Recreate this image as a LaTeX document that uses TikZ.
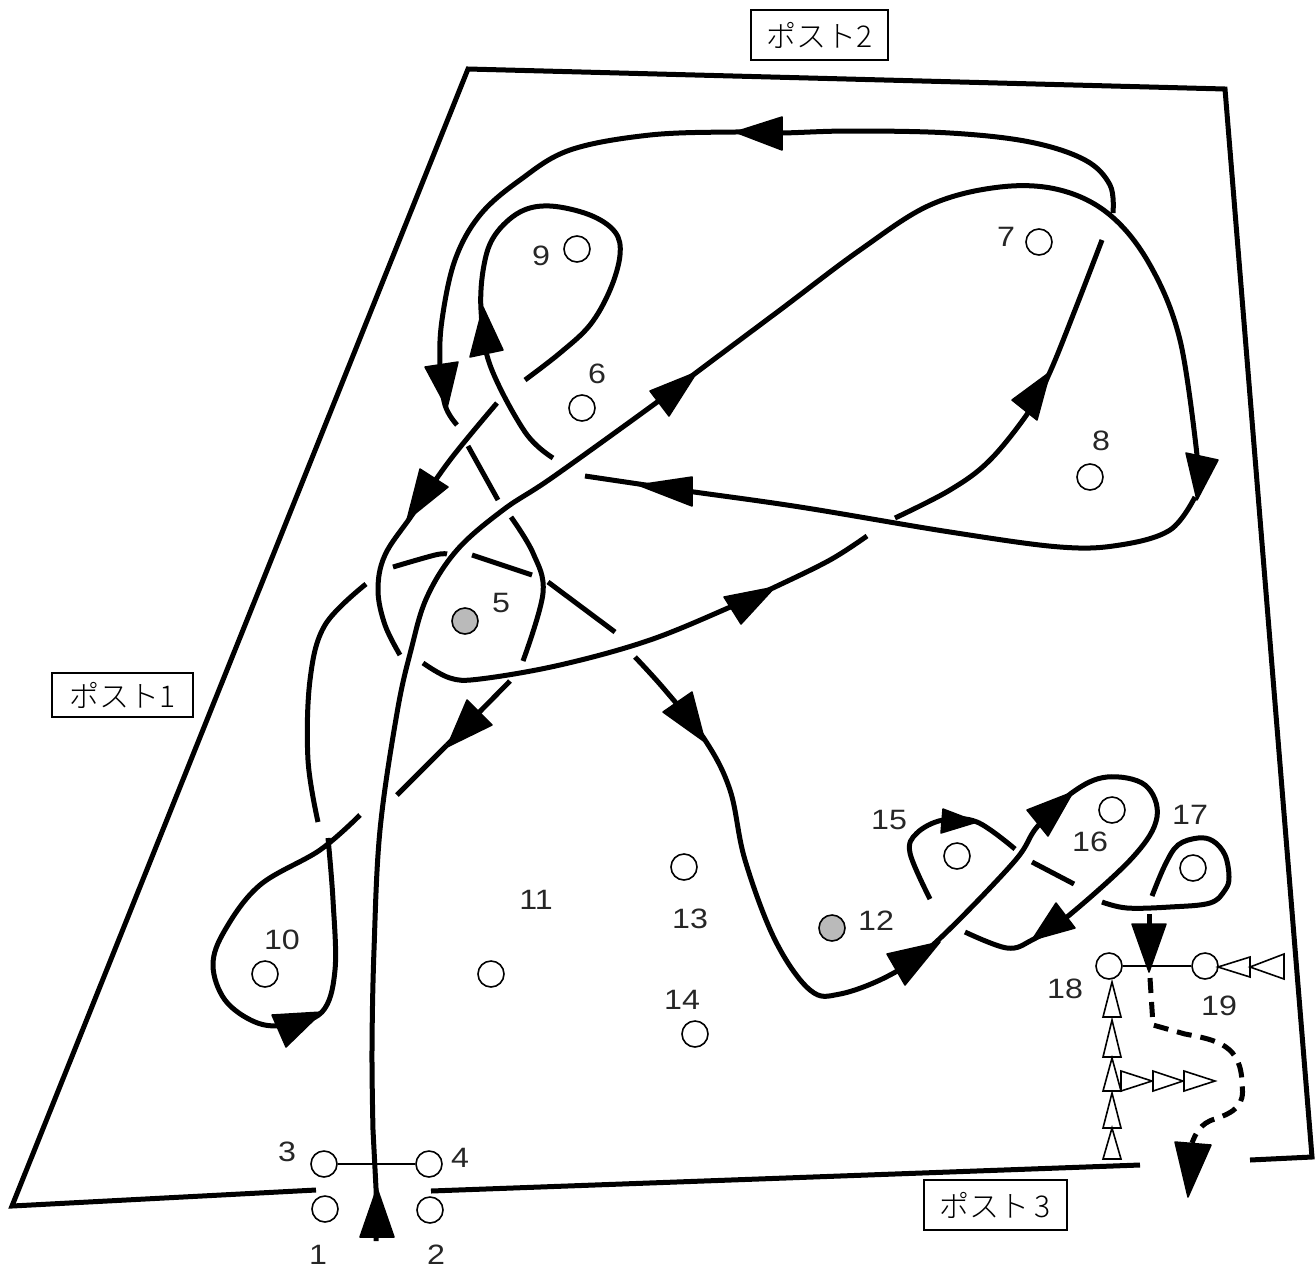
\documentclass[tikz,border=0pt]{standalone}
\usepackage{fontspec}
\newfontfamily\lblfont[FakeStretch=1.15]{Liberation Sans}
\newfontfamily\jpfont[UprightFont=* Light]{Noto Sans CJK JP}
\usetikzlibrary{calc}
\tikzset{
  wall/.style={line width=5pt,line join=miter},
  track/.style={line width=5pt,line cap=butt,line join=round},
  dashtrack/.style={track,dash pattern=on 15pt off 9pt},
  head/.style={fill=black,draw=black,line width=1.5pt,line join=round},
  marker/.style={fill=white,draw=black,line width=1.6pt,line join=miter},
  cone/.style={circle,draw=black,fill=white,line width=1.6pt,minimum size=26pt,inner sep=0pt},
  graycone/.style={cone,fill=black!27},
  link/.style={line width=1.6pt},
  num/.style={font=\lblfont\fontsize{28}{28}\selectfont,inner sep=0pt,text=black!85},
  post/.style={draw=black,line width=1.2pt,fill=white,inner sep=0pt,font=\jpfont\fontsize{30}{30}\selectfont}
}
\newcommand{\trk}[1]{\draw[track] plot[smooth,tension=.6] coordinates {#1};}
\begin{document}
\begin{tikzpicture}[x=1pt,y=-1pt]
\useasboundingbox (0,0) rectangle (1315,1270);
% walls
\draw[wall] (316,1190) -- (12,1206) -- (468,69) -- (1225,89) -- (1312,1157) -- (1250,1160);
\draw[wall] (431,1191) -- (1140,1165);
% cones
\node[cone] (c1) at (325,1209) {};
\node[cone] (c2) at (430,1210) {};
\node[cone] (c3) at (324,1164) {};
\node[cone] (c4) at (429,1164) {};
\node[graycone] (c5) at (465,621) {};
\node[cone] (c6) at (582,408) {};
\node[cone] (c7) at (1039,242) {};
\node[cone] (c8) at (1090,477) {};
\node[cone] (c9) at (577,249) {};
\node[cone] (c10) at (265,974) {};
\node[cone] (c11) at (491,974) {};
\node[graycone] (c12) at (832,928) {};
\node[cone] (c13) at (684,867) {};
\node[cone] (c14) at (695,1034) {};
\node[cone] (c15) at (957,856) {};
\node[cone] (c16) at (1112,810) {};
\node[cone] (c17) at (1193,868) {};
\node[cone] (c18) at (1109,966) {};
\node[cone] (c19) at (1205,966) {};
\draw[link] (c3) -- (c4);
\draw[link] (c18) -- (c19);
% numbers
\node[num] (n1) at (318,1255) {1};
\node[num] (n2) at (436,1255) {2};
\node[num] (n3) at (287,1152) {3};
\node[num] (n4) at (460,1158) {4};
\node[num] (n5) at (501,603) {5};
\node[num] (n6) at (597,374) {6};
\node[num] (n7) at (1006,237) {7};
\node[num] (n8) at (1101,441) {8};
\node[num] (n9) at (541,256) {9};
\node[num] (n10) at (282,940) {10};
\node[num] (n11) at (536,900) {11};
\node[num] (n12) at (876,921) {12};
\node[num] (n13) at (690,919) {13};
\node[num] (n14) at (682,1000) {14};
\node[num] (n15) at (889,820) {15};
\node[num] (n16) at (1090,842) {16};
\node[num] (n17) at (1190,815) {17};
\node[num] (n18) at (1065,989) {18};
\node[num] (n19) at (1219,1006) {19};
% post labels
\node[post,minimum width=137pt,minimum height=50pt] (p2) at (819.5,35) {ポスト2\hspace{20pt}};
\node[post,minimum width=141pt,minimum height=44pt] (p1) at (122.5,695) {ポスト1\hspace{20pt}};
\node[post,minimum width=143pt,minimum height=50pt] (p3) at (995.5,1205) {ポスト\,3\hspace{14pt}};
% track
\draw[track] (376,1241) -- (376,1188) -- (373,1130);
\trk{(373,1130)(372,1050)(374,950)(380,830)(397,713)(411,650)(427,597)(457,550)(503,510)(553,477)(660,400)(697,372)(780,310)(860,250)(930,205)(1000,187)(1060,190)(1110,215)(1150,265)(1180,340)(1197,455)}
\fill[head] (377,1188) -- (394,1237) -- (360,1237) -- cycle;
\fill[head] (697,372) -- (650,391) -- (669,416) -- cycle;
\fill[head] (1186,453) -- (1218,460) -- (1197,500) -- cycle;
\trk{(1195,497)(1170,530)(1120,545)(1060,547)(950,532)(800,507)(680,490)(585,476)}
\fill[head] (638,485) -- (692,477) -- (692,506) -- cycle;
\trk{(553,458)(525,432)(490,365)(481,310)(484,265)(495,235)(520,212)(550,206)(590,215)(615,232)(620,255)(610,290)(590,325)(560,353)(525,380)}
\fill[head] (483,307) -- (503,350) -- (470,357) -- cycle;
\trk{(497,403)(450,460)(412,515)(385,555)(378,590)(385,625)(400,655)}
\fill[head] (420,469) -- (448,487) -- (407,520) -- cycle;
\trk{(423,663)(450,678)(480,679)(560,665)(650,640)(735,605)(775,587)(830,560)(867,536)}
\fill[head] (775,587) -- (724,597) -- (741,624) -- cycle;
\trk{(895,518)(950,490)(990,460)(1030,410)(1050,372)(1075,310)(1102,240)}
\fill[head] (1050,372) -- (1012,400) -- (1037,420) -- cycle;
\trk{(1113,213)(1110,185)(1085,160)(1030,142)(950,133)(850,131)(780,133)(735,132)(650,135)(570,150)(520,180)(480,215)(455,260)(442,320)(440,365)(445,405)(457,425)}
\fill[head] (735,132) -- (782,117) -- (782,150) -- cycle;
\fill[head] (425,367) -- (458,362) -- (447,408) -- cycle;
\draw[track] (468,446) -- (498,500);
\trk{(511,517)(533,553)(543,593)(523,661)}
\draw[track] (510,681) -- (447,745) ;
\fill[head] (447,747) -- (467,700) -- (492,725) -- cycle;
\draw[track] (447,745) -- (397,795);
\trk{(360,815)(320,850)(260,885)(225,930)(213,965)(225,1000)(255,1022)(285,1025)(322,1012)(335,970)(333,900)(328,838)}
\fill[head] (322,1012) -- (272,1015) -- (286,1047) -- cycle;
\trk{(318,822)(308,760)(310,680)(325,625)(366,584)}
\trk{(393,567)(435,555)(447,554)}
\draw[track] (472,555) -- (532,575);
\draw[track] (548,582) -- (615,632);
\trk{(635,657)(665,690)(705,740)(730,790)(745,860)(775,940)(810,990)(840,994)(890,975)(935,943)(1013,863)(1037,827)(1073,792)(1107,777)(1145,785)(1157,817)(1133,857)(1067,917)(1032,940)(1007,948)(965,932)}
\fill[head] (705,742) -- (663,712) -- (692,692) -- cycle;
\fill[head] (940,942) -- (887,954) -- (905,985) -- cycle;
\fill[head] (1073,792) -- (1027,810) -- (1048,836) -- cycle;
\fill[head] (1032,940) -- (1056,903) -- (1075,928) -- cycle;
\trk{(930,899)(910,853)(917,833)(943,820)(977,822)(1015,849)}
\fill[head] (977,822) -- (943,809) -- (941,833) -- cycle;
\draw[track] (1032,862) -- (1074,884);
\trk{(1102,902)(1127,908)(1170,907)(1210,903)(1225,890)(1229,877)(1225,855)(1213,841)(1198,838)(1178,845)(1165,865)(1152,896)}
\draw[track] (1149,914) -- (1149,930);
\fill[head] (1132,924) -- (1166,924) -- (1149,972) -- cycle;
\draw[dashtrack] (1150,978) -- (1153,1025) -- (1185,1034) .. controls (1217,1040) and (1242,1045) .. (1242,1085) .. controls (1245,1105) and (1235,1112) .. (1215,1119) .. controls (1200,1123) and (1195,1135) .. (1192,1143);
\fill[head] (1175,1142) -- (1211,1145) -- (1188,1197) -- cycle;
% markers
\draw[marker] (1112,982) -- (1121,1017) -- (1103,1017) -- cycle;
\draw[marker] (1112,1020) -- (1121,1057) -- (1103,1057) -- cycle;
\draw[marker] (1112,1058) -- (1121,1091) -- (1103,1091) -- cycle;
\draw[marker] (1112,1093) -- (1121,1128) -- (1103,1128) -- cycle;
\draw[marker] (1112,1128) -- (1121,1159) -- (1103,1159) -- cycle;
\draw[marker] (1152,1081) -- (1121,1071) -- (1121,1091) -- cycle;
\draw[marker] (1183,1081) -- (1153,1071) -- (1153,1091) -- cycle;
\draw[marker] (1215,1081) -- (1184,1071) -- (1184,1091) -- cycle;
\draw[marker] (1218,967) -- (1250,957) -- (1250,977) -- cycle;
\draw[marker] (1250,967) -- (1284,954) -- (1284,979) -- cycle;
\end{tikzpicture}
\end{document}
